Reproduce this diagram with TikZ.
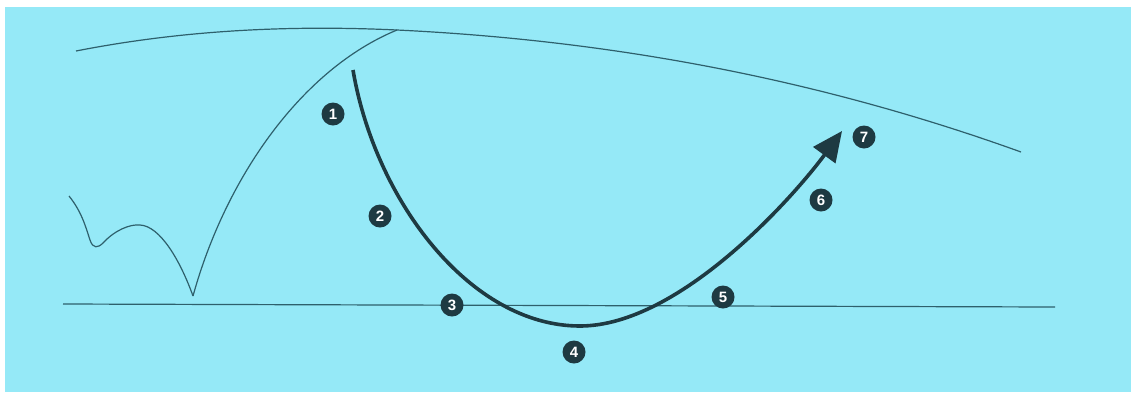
\documentclass[tikz,border=0pt]{standalone}
\usepackage{fontspec}
\setsansfont{Liberation Sans}
\usetikzlibrary{arrows.meta}
\definecolor{bgcyan}{RGB}{149,233,247}
\definecolor{thinline}{RGB}{46,96,108}
\definecolor{darkline}{RGB}{30,58,66}
\tikzset{
  thin line/.style={draw=thinline, line width=1.2pt},
  flow/.style={draw=darkline, line width=3.6pt, -{Triangle[length=30pt,width=27pt]}},
  num/.style={circle, fill=darkline, text=white, inner sep=0pt, minimum size=23pt,
    font=\fontsize{15}{15}\selectfont\sffamily\bfseries}
}
\begin{document}
\begin{tikzpicture}[x=1pt,y=-1pt]
\useasboundingbox (0,0) rectangle (1131,392);
\fill[white] (0,0) rectangle (1131,392);
\fill[bgcyan] (5,7) rectangle (1131,392);
% coordinates
\coordinate (topL) at (76,51);
\coordinate (junc) at (397,30);
\coordinate (topR) at (1021,152);
\coordinate (cusp) at (193,296);
\coordinate (wig) at (69,196);
\coordinate (gL) at (63,304);
\coordinate (gR) at (1055,307);
\coordinate (s) at (353,70);
\coordinate (low) at (580,326);
\coordinate (tip) at (842,131);
% thin lines
\draw[thin line] (topL) .. controls (183,30) and (290,25) .. (junc)
  .. controls (605,40) and (813,77) .. (topR);
\draw[thin line] (cusp) .. controls (225,180) and (300,70) .. (junc);
\draw[thin line] (wig) .. controls (82,212) and (86,228) .. (90,240)
  .. controls (93,249) and (98,248) .. (103,243)
  .. controls (115,230) and (130,224) .. (140,225)
  .. controls (160,226) and (180,260) .. (cusp);
\draw[thin line] (gL) -- (gR);
% main thick curve
\draw[flow] (s) .. controls (375,200) and (470,326) .. (low)
  .. controls (680,326) and (795,195) .. (tip);
% numbers
\node[num] (n1) at (333,114) {1};
\node[num] (n2) at (380,216) {2};
\node[num] (n3) at (452,305) {3};
\node[num] (n4) at (574,352) {4};
\node[num] (n5) at (723,297) {5};
\node[num] (n6) at (821,200) {6};
\node[num] (n7) at (864,137) {7};
\end{tikzpicture}
\end{document}
